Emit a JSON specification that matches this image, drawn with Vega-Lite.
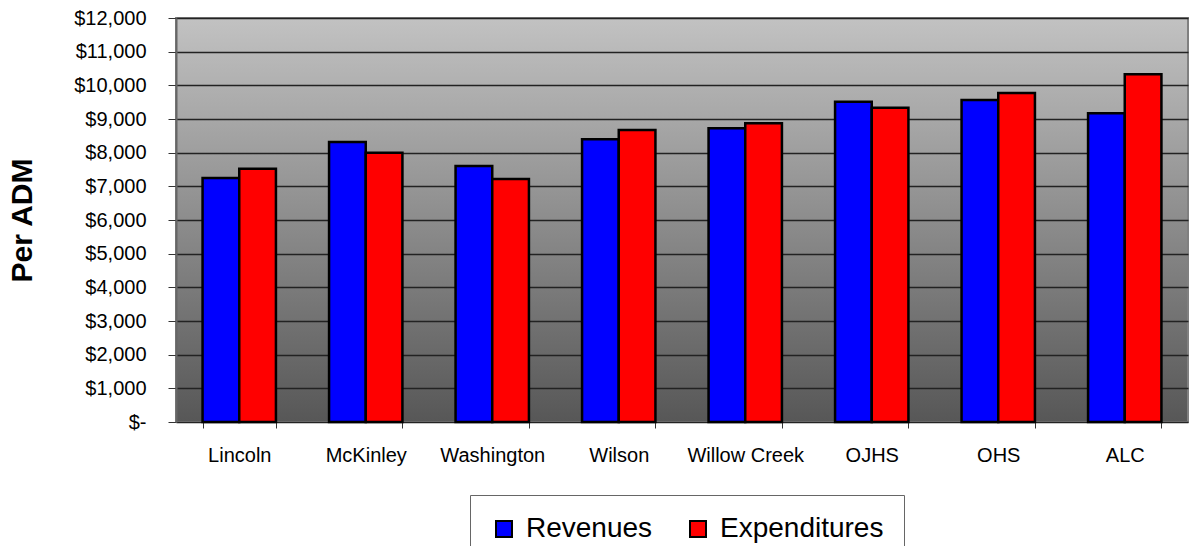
{
  "$schema": "https://vega.github.io/schema/vega-lite/v6.json",
  "width": 1012,
  "height": 404,
  "autosize": "none",
  "padding": {"left": 176, "top": 18, "right": 3, "bottom": 124},
  "background": "white",
  "config": {
    "font": "Liberation Sans",
    "view": {
      "stroke": "#808080",
      "strokeWidth": 2,
      "fill": {
        "gradient": "linear",
        "x1": 0, "y1": 0, "x2": 0, "y2": 1,
        "stops": [
          {"offset": 0, "color": "#c2c2c2"},
          {"offset": 1, "color": "#575757"}
        ]
      }
    }
  },
  "data": {
    "values": [
      {"school": "Lincoln", "type": "Revenues", "value": 7247},
      {"school": "Lincoln", "type": "Expenditures", "value": 7523},
      {"school": "McKinley", "type": "Revenues", "value": 8316},
      {"school": "McKinley", "type": "Expenditures", "value": 7999},
      {"school": "Washington", "type": "Revenues", "value": 7603},
      {"school": "Washington", "type": "Expenditures", "value": 7217},
      {"school": "Wilson", "type": "Revenues", "value": 8396},
      {"school": "Wilson", "type": "Expenditures", "value": 8672},
      {"school": "Willow Creek", "type": "Revenues", "value": 8723},
      {"school": "Willow Creek", "type": "Expenditures", "value": 8871},
      {"school": "OJHS", "type": "Revenues", "value": 9513},
      {"school": "OJHS", "type": "Expenditures", "value": 9335},
      {"school": "OHS", "type": "Revenues", "value": 9563},
      {"school": "OHS", "type": "Expenditures", "value": 9771},
      {"school": "ALC", "type": "Revenues", "value": 9168},
      {"school": "ALC", "type": "Expenditures", "value": 10327}
    ]
  },
  "mark": {"type": "bar", "stroke": "black", "strokeWidth": 2.5},
  "encoding": {
    "x": {
      "field": "school",
      "type": "nominal",
      "sort": null,
      "scale": {"paddingInner": 0.42, "paddingOuter": 0.21},
      "axis": {
        "title": null,
        "labelAngle": 0,
        "labelFontSize": 20,
        "labelColor": "black",
        "labelPadding": 17,
        "tickBand": "extent",
        "tickSize": 6,
        "tickColor": "#333",
        "domain": false,
        "grid": false
      }
    },
    "xOffset": {
      "field": "type",
      "type": "nominal",
      "sort": ["Revenues", "Expenditures"],
      "scale": {"paddingInner": 0, "paddingOuter": 0}
    },
    "y": {
      "field": "value",
      "type": "quantitative",
      "scale": {"domain": [0, 12000]},
      "axis": {
        "title": "Per ADM",
        "titleFontSize": 30,
        "titleFontWeight": "bold",
        "titleColor": "black",
        "titlePadding": 36,
        "values": [0, 1000, 2000, 3000, 4000, 5000, 6000, 7000, 8000, 9000, 10000, 11000, 12000],
        "labelExpr": "datum.value == 0 ? '$-' : '$' + format(datum.value, ',')",
        "labelFontSize": 20,
        "labelColor": "black",
        "labelPadding": 22,
        "tickSize": 8,
        "tickColor": "#333",
        "domainColor": "#666",
        "domainWidth": 2,
        "grid": true,
        "gridColor": "#222",
        "gridWidth": 1.5,
        "gridOpacity": 1
      }
    },
    "fill": {
      "field": "type",
      "type": "nominal",
      "sort": ["Revenues", "Expenditures"],
      "scale": {"domain": ["Revenues", "Expenditures"], "range": ["#0000ff", "#ff0000"]},
      "legend": {
        "title": null,
        "orient": "none",
        "direction": "horizontal",
        "legendX": 294,
        "legendY": 477,
        "padding": 20,
        "strokeColor": "#666",
        "fillColor": "white",
        "symbolType": "square",
        "symbolSize": 256,
        "symbolStrokeColor": "black",
        "symbolStrokeWidth": 2,
        "labelFontSize": 28,
        "labelLimit": 400,
        "labelColor": "black",
        "labelOffset": 8,
        "columnPadding": 31
      }
    }
  }
}
